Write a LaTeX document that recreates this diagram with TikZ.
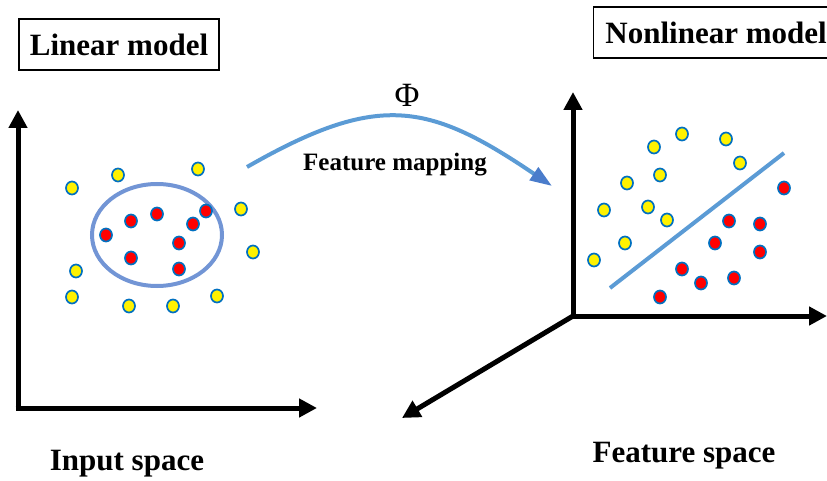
\documentclass[tikz,border=0pt]{standalone}
\usepackage{fontspec}
\setmainfont{Liberation Serif}
\usetikzlibrary{arrows.meta}
\definecolor{dotblue}{HTML}{0070C0}
\definecolor{ellblue}{HTML}{7295D5}
\definecolor{linblue}{HTML}{5B9BD5}
\definecolor{headblue}{HTML}{4A7CCB}
\tikzset{
  axis/.style={line width=5pt, -{Triangle[length=18pt,width=18pt]}},
  ydot/.style={ellipse, draw=dotblue, fill=yellow, line width=1.7pt, minimum width=12pt, minimum height=13pt, inner sep=0pt},
  rdot/.style={ellipse, draw=dotblue, fill=red, line width=1.7pt, minimum width=12pt, minimum height=13pt, inner sep=0pt},
  titlebox/.style={draw, line width=1.2pt, inner xsep=6pt, inner ysep=4pt, font=\bfseries\fontsize{31}{36}\selectfont},
  label/.style={font=\bfseries\fontsize{31}{36}\selectfont, inner sep=0pt},
}
\usetikzlibrary{shapes.geometric}
\begin{document}
\begin{tikzpicture}[x=1pt,y=-1pt]
\useasboundingbox (0,0) rectangle (827,481);
\clip (0,0) rectangle (827,481);
% titles
\node[titlebox, minimum width=200pt, minimum height=51pt] (lin) at (119,44.5) {Linear model};
\node[titlebox, anchor=west, minimum height=51pt, minimum width=245pt] (nonlin) at (593,32.5) {Nonlinear model};
% left axes
\coordinate (lo) at (18,408);
\coordinate (ly) at (18,110);
\coordinate (lx) at (317,408);
\draw[axis] ([yshift=2.5pt]lo) -- (ly);
\draw[axis] ([xshift=-2.5pt]lo) -- (lx);
\node[label, anchor=base] (inp) at (127,470) {Input space};
% right axes
\coordinate (ro) at (573,316);
\coordinate (ry) at (573,92);
\coordinate (rx) at (827,316);
\coordinate (rz) at (402,418);
\draw[axis] ([yshift=2.5pt]ro) -- (ry);
\draw[axis] ([xshift=-2.5pt]ro) -- (rx);
\draw[axis] (ro) -- (rz);
\node[label, anchor=base] (feat) at (684,462) {Feature space};
% ellipse
\draw[ellblue, line width=4pt] (157,235) ellipse [x radius=65pt, y radius=51pt];
% left dots
\foreach \x/\y [count=\i] in {72/188,118/175,198/169,241/209,253/252,76/271,72/297,129/306,173/306,217/296}
  \node[ydot] (ly\i) at (\x,\y) {};
\foreach \x/\y [count=\i] in {106/235,131/221,157/214,206/211,193/224,179/243,131/258,179/269}
  \node[rdot] (lr\i) at (\x,\y) {};
% right dots
\foreach \x/\y [count=\i] in {682/134,654/147,726/139,740/163,660/175,627/183,604/210,648/207,667/220,625/243,594/260}
  \node[ydot] (ry\i) at (\x,\y) {};
\foreach \x/\y [count=\i] in {784/188,729/221,760/224,715/243,760/252,682/269,701/283,734/278,660/297}
  \node[rdot] (rr\i) at (\x,\y) {};
% separating line
\coordinate (s1) at (610,288);
\coordinate (s2) at (784,153);
\draw[linblue, line width=4pt] (s1) -- (s2);
% mapping arc
\coordinate (m1) at (247,167);
\coordinate (m2) at (552,186);
\draw[linblue, line width=4pt, -{Triangle[length=22pt,width=15pt,fill=headblue,color=headblue]}]
  (m1) .. controls (378,92) and (428,102) .. (m2);
\node[font=\fontsize{34}{38}\selectfont, inner sep=0pt] (phi) at (407,95) {Φ};
\node[font=\bfseries\fontsize{25}{30}\selectfont, inner sep=0pt, anchor=base] (fm) at (395,171) {Feature mapping};
\end{tikzpicture}
\end{document}
